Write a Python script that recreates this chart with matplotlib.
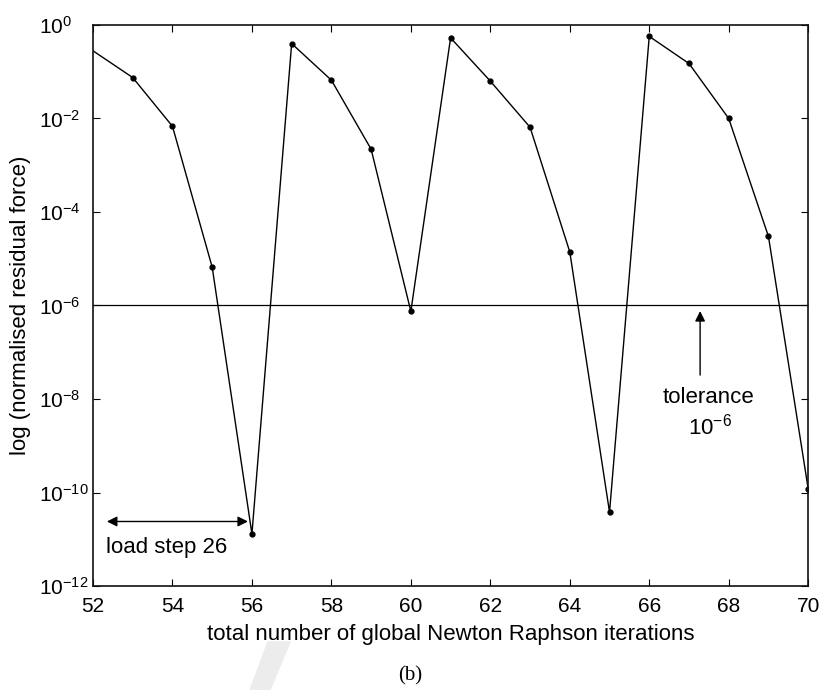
import matplotlib
matplotlib.use("Agg")
import matplotlib.pyplot as plt
from matplotlib.patches import Polygon

plt.rcParams['font.family'] = ['Liberation Sans', 'DejaVu Sans']
plt.rcParams['mathtext.fontset'] = 'custom'
plt.rcParams['mathtext.rm'] = 'Liberation Sans'
plt.rcParams['mathtext.default'] = 'regular'

# Residual per global Newton Raphson iteration
iterations = [52, 53, 54, 55, 56, 57, 58, 59, 60, 61, 62, 63, 64, 65, 66, 67, 68, 69, 70]
residuals = [2.8e-1, 7.5e-2, 6.8e-3, 6.6e-6, 1.3e-11,
             4.0e-1, 6.6e-2, 2.2e-3, 7.5e-7,
             5.3e-1, 6.3e-2, 6.5e-3, 1.4e-5, 3.8e-11,
             5.7e-1, 1.5e-1, 1.0e-2, 3.0e-5, 1.2e-10]
tolerance = 1e-6
xticks = [52, 54, 56, 58, 60, 62, 64, 66, 68, 70]
yticks = [1e0, 1e-2, 1e-4, 1e-6, 1e-8, 1e-10, 1e-12]

fig = plt.figure(figsize=(8.23, 6.9), dpi=100)
ax = fig.add_axes([0.113, 0.1507, 0.869, 0.8131])

# line with dots (first point sits on the axis edge, no marker)
ax.plot(iterations, residuals, color='black', linewidth=1)
ax.plot(iterations[1:], residuals[1:], 'o', color='black', markersize=3.5)

# tolerance line
ax.axhline(tolerance, color='black', linewidth=0.9)

ax.set_yscale('log')
ax.set_xlim(52, 70)
ax.set_ylim(1e-12, 1e0)
ax.set_xticks(xticks)
ax.set_yticks(yticks)
ax.minorticks_off()
ax.tick_params(direction='in', top=True, right=True, labelsize=15, length=5, width=0.8)
ax.tick_params(axis='x', pad=8)
# "10" of every y label starts at the same x, exponent runs to the right
ax.tick_params(axis='y', pad=39)
for lab in ax.get_yticklabels():
    lab.set_horizontalalignment('left')
for s in ax.spines.values():
    s.set_linewidth(1.2)
    s.set_color('#111111')

ax.set_xlabel('total number of global Newton Raphson iterations', fontsize=16, labelpad=6)
ax.set_ylabel('log (normalised residual force)', fontsize=16)
ax.yaxis.set_label_coords(-0.086, 0.5)

# annotations
ax.annotate('', xy=(55.9, 2.4e-11), xytext=(52.35, 2.4e-11),
            arrowprops=dict(arrowstyle='<|-|>', color='black', lw=1, mutation_scale=15,
                            shrinkA=0, shrinkB=0))
ax.text(52.33, 6.8e-12, 'load step 26', fontsize=16, ha='left', va='center')

ax.annotate('', xy=(67.28, 7.6e-7), xytext=(67.28, 3.25e-8),
            arrowprops=dict(arrowstyle='-|>', color='black', lw=1, mutation_scale=15,
                            shrinkA=0, shrinkB=0))
ax.text(67.48, 1.1e-8, 'tolerance', fontsize=16, ha='center', va='center')
ax.text(67.53, 2.6e-9, r'$10^{-6}$', fontsize=16, ha='center', va='center')

fig.text(0.499, 0.021, '(b)', fontsize=15, ha='center', va='center', family='Liberation Serif')

# faint watermark slash below the axes
fig.patches.append(Polygon([[0.3256, 0.0696], [0.3524, 0.0696], [0.328, 0.0], [0.3038, 0.0]],
                           closed=True, transform=fig.transFigure, color='#ececec', zorder=-1))

fig.savefig('out.png', dpi=100)
